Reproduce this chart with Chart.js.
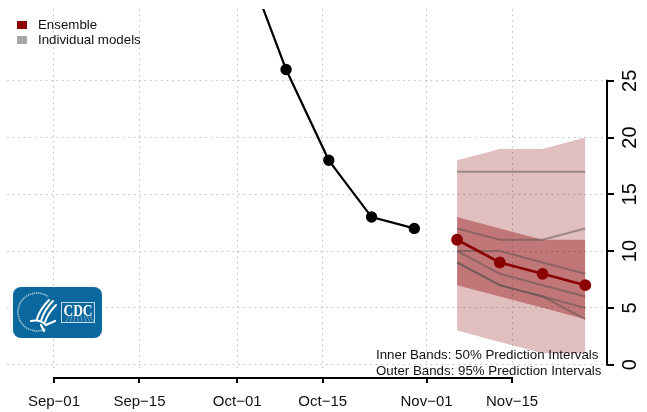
<!DOCTYPE html>
<html>
<head>
<meta charset="utf-8">
<title>Forecast</title>
<script src="https://cdn.jsdelivr.net/npm/chart.js@4"></script>
<style>
  html, body { margin: 0; padding: 0; background: #fff; }
  canvas { display: block; }
</style>
</head>
<body>
<canvas id="chart" width="647" height="412"></canvas>
<script>
const xTickDates = ['2020-09-01', '2020-09-15', '2020-10-01', '2020-10-15', '2020-11-01', '2020-11-15'];
const xTickLabels = ['Sep\u221201', 'Sep\u221215', 'Oct\u221201', 'Oct\u221215', 'Nov\u221201', 'Nov\u221215'];
const yTicks = [0, 5, 10, 15, 20, 25];

const observedDates = ['2020-10-02', '2020-10-09', '2020-10-16', '2020-10-23', '2020-10-30'];
const observedValues = [36, 26, 18, 13, 12];

const forecastDates = ['2020-11-06', '2020-11-13', '2020-11-20', '2020-11-27'];
const ensembleValues = [11, 9, 8, 7];
const outerUpper = [18, 19, 19, 20];
const outerLower = [3, 2, 1, 1];
const innerUpper = [13, 12, 11, 11];
const innerLower = [7, 6, 5, 4];
const modelA = [17, 17, 17, 17];
const modelB = [12, 11, 11, 12];
const modelC = [10, 10, 9, 8];
const modelD = [10, 8, 7, 6];
const modelE = [9, 7, 6, 5];
const modelF = [9, 7, 6, 4];

const FONT = '"Liberation Sans", Arial, sans-serif';

// days since Sep 1, x axis is a plain linear scale
const dayOf = (d) => (Date.parse(d) - Date.parse('2020-09-01')) / 86400000;
const toPoints = (dates, values) => dates.map((d, i) => ({ x: dayOf(d), y: values[i] }));

const modelLine = (values) => ({
  data: toPoints(forecastDates, values),
  borderColor: 'rgba(90, 80, 80, 0.5)',
  borderWidth: 2,
  pointRadius: 0,
  fill: false,
  order: 3,
});

const band = (values, fill, color) => ({
  data: toPoints(forecastDates, values),
  borderWidth: 0,
  pointRadius: 0,
  backgroundColor: color,
  fill: fill,
});

const drawLogo = (ctx) => {
  ctx.save();
  ctx.fillStyle = '#0b689f';
  ctx.beginPath();
  ctx.roundRect(13, 287, 89, 51, 8);
  ctx.fill();

  // ring of the HHS seal, open on the right
  ctx.strokeStyle = 'rgba(255,255,255,0.6)';
  ctx.lineWidth = 1.6;
  ctx.setLineDash([1.4, 0.7]);
  ctx.beginPath();
  ctx.arc(37, 312, 19, Math.PI * 0.35, Math.PI * 1.7);
  ctx.stroke();
  ctx.setLineDash([]);

  // eagle strokes
  ctx.strokeStyle = '#fff';
  ctx.lineCap = 'round';
  ctx.lineWidth = 2;
  [[53, 301, 44, 310, 41, 321], [49, 300, 40, 309, 37, 319], [56, 305, 48, 313, 45, 322]].forEach((s) => {
    ctx.beginPath();
    ctx.moveTo(s[0], s[1]);
    ctx.quadraticCurveTo(s[2], s[3], s[4], s[5]);
    ctx.stroke();
  });
  ctx.lineWidth = 2.2;
  ctx.beginPath();
  ctx.moveTo(31, 321);
  ctx.quadraticCurveTo(40, 319, 46, 325);
  ctx.lineTo(55, 321);
  ctx.stroke();
  ctx.beginPath();
  ctx.moveTo(41, 325);
  ctx.lineTo(44, 331);
  ctx.stroke();

  // CDC box
  ctx.lineCap = 'butt';
  ctx.strokeStyle = 'rgba(255,255,255,0.75)';
  ctx.lineWidth = 1;
  ctx.strokeRect(61.5, 302.5, 33, 20);
  ctx.strokeStyle = 'rgba(255,255,255,0.4)';
  for (let i = 0; i < 8; i++) {
    ctx.beginPath();
    ctx.moveTo(66 + i * 4, 322);
    ctx.lineTo(69 + i * 3, 316);
    ctx.stroke();
  }
  ctx.fillStyle = '#fff';
  ctx.font = 'bold 17px "Liberation Serif", serif';
  ctx.textAlign = 'center';
  ctx.textBaseline = 'middle';
  ctx.fillText('CDC', 78, 312, 29);
  ctx.restore();
};

const furniture = {
  id: 'furniture',
  afterDraw(chart) {
    const { ctx, scales: { x, y } } = chart;
    ctx.save();
    ctx.strokeStyle = '#000';
    ctx.lineWidth = 2;
    ctx.lineCap = 'butt';

    // R style axes, only as long as the ticks
    const axisY = 378;
    const axisX = 607;
    const first = dayOf(xTickDates[0]);
    const last = dayOf(xTickDates[xTickDates.length - 1]);
    ctx.beginPath();
    ctx.moveTo(x.getPixelForValue(first) - 1, axisY);
    ctx.lineTo(x.getPixelForValue(last) + 1, axisY);
    xTickDates.forEach((d) => {
      const px = Math.round(x.getPixelForValue(dayOf(d)));
      ctx.moveTo(px, axisY);
      ctx.lineTo(px, axisY + 5);
    });
    ctx.moveTo(axisX, y.getPixelForValue(0) + 1);
    ctx.lineTo(axisX, y.getPixelForValue(25) - 1);
    yTicks.forEach((v) => {
      const py = Math.round(y.getPixelForValue(v));
      ctx.moveTo(axisX, py);
      ctx.lineTo(axisX + 7, py);
    });
    ctx.stroke();

    // rotated y labels
    ctx.fillStyle = '#000';
    ctx.font = '20px ' + FONT;
    ctx.textAlign = 'center';
    ctx.textBaseline = 'alphabetic';
    yTicks.forEach((v) => {
      ctx.save();
      ctx.translate(636, y.getPixelForValue(v));
      ctx.rotate(-Math.PI / 2);
      ctx.fillText(String(v), 0, 0);
      ctx.restore();
    });

    // legend
    ctx.textAlign = 'left';
    ctx.textBaseline = 'middle';
    ctx.font = '13.3px ' + FONT;
    ctx.fillStyle = '#8b0000';
    ctx.fillRect(17, 21, 10, 8);
    ctx.fillStyle = '#a9a9a9';
    ctx.fillRect(17, 36, 10, 8);
    ctx.fillStyle = '#111';
    ctx.fillText('Ensemble', 38, 25.5);
    ctx.fillText('Individual models', 38, 40.5);

    // notes
    ctx.fillText('Inner Bands: 50% Prediction Intervals', 376, 355.5);
    ctx.fillText('Outer Bands: 95% Prediction Intervals', 376, 371.5);

    drawLogo(ctx);
    ctx.restore();
  },
};

new Chart(document.getElementById('chart'), {
  type: 'line',
  data: {
    datasets: [
      { ...band(outerUpper, '+1', 'rgba(139, 0, 0, 0.25)'), order: 6 },
      { ...band(outerLower, false, 'transparent'), order: 6 },
      { ...band(innerUpper, '+1', 'rgba(139, 0, 0, 0.38)'), order: 5 },
      { ...band(innerLower, false, 'transparent'), order: 5 },
      modelLine(modelA),
      modelLine(modelB),
      modelLine(modelC),
      modelLine(modelD),
      modelLine(modelE),
      modelLine(modelF),
      {
        data: toPoints(observedDates, observedValues),
        borderColor: '#000',
        backgroundColor: '#000',
        borderWidth: 2.2,
        pointRadius: 4.6,
        tension: 0,
        order: 1,
      },
      {
        data: toPoints(forecastDates, ensembleValues),
        borderColor: '#8b0000',
        backgroundColor: '#8b0000',
        borderWidth: 2.6,
        pointRadius: 4.6,
        order: 1,
      },
    ],
  },
  options: {
    responsive: false,
    animation: false,
    layout: { padding: { left: 6, right: 40, top: 9, bottom: 0 } },
    plugins: { legend: { display: false }, tooltip: { enabled: false } },
    scales: {
      x: {
        type: 'linear',
        min: -7.66,
        max: 90.55,
        afterBuildTicks: (scale) => { scale.ticks = xTickDates.map((d) => ({ value: dayOf(d) })); },
        afterFit: (scale) => { scale.height = 40; },
        grid: { color: '#bdbdbd', lineWidth: 1, drawTicks: false },
        border: { display: false, dash: [1.5, 4] },
        ticks: {
          autoSkip: false,
          maxRotation: 0,
          minRotation: 0,
          padding: 21,
          color: '#111',
          font: { family: FONT, size: 15 },
          callback: (v) => xTickLabels[xTickDates.findIndex((d) => dayOf(d) === v)],
        },
      },
      y: {
        position: 'right',
        min: -0.65,
        max: 31.33,
        afterBuildTicks: (scale) => { scale.ticks = yTicks.map((v) => ({ value: v })); },
        grid: { color: '#bdbdbd', lineWidth: 1, drawTicks: false },
        border: { display: false, dash: [1.5, 4] },
        ticks: { display: false },
      },
    },
  },
  plugins: [furniture],
});
</script>
</body>
</html>
